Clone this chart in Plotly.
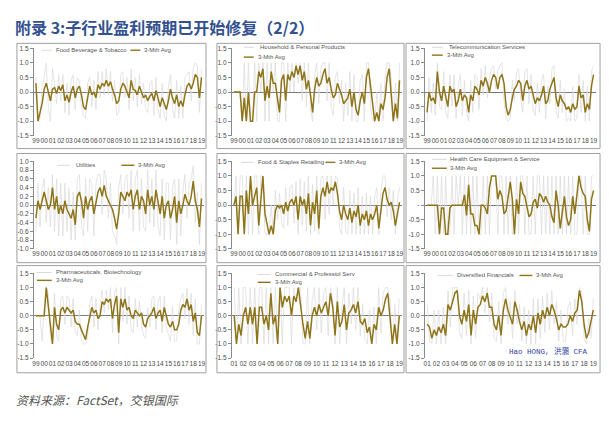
import numpy as np
import plotly.graph_objects as go

# ---------------- data (quarterly readings from the picture) ----------------
years_99 = [str(y)[-2:] for y in range(1999, 2020)]
years_01 = [str(y)[-2:] for y in range(2001, 2020)]

titles = ["Food Beverage & Tobacco", "Household & Personal Products", "Telecommunication Services",
          "Utilities", "Food & Staples Retailing", "Health Care Equipment & Service",
          "Pharmaceuticals, Biotechnology", "Commercial & Professiol Serv", "Diversified Financials"]
start_year = [1999, 1999, 1999, 1999, 1999, 1999, 1999, 2001, 2001]

food_bev_avg = [0.3, -1.0, -0.7, -0.4, 0.1, 0.3, 0.0, -0.3, 0.1, 0.15, -0.05, 0.2, 0.05, 0.25, -0.3, -0.1,
                -0.35, 0.0, 0.2, -0.2, 0.1, 0.2, -0.1, -0.5, -0.6, -0.2, 0.2, -0.1, 0.0, -0.2, 0.25, 0.1,
                0.3, 0.2, 0.4, 0.2, 0.35, 0.1, -0.1, -0.4, -0.3, 0.1, 0.3, 0.2, 0.0, -0.2, 0.4, 0.1,
                0.05, -0.1, 0.2, 0.0, -0.2, -0.1, -0.3, -0.15, -0.05, -0.3, 0.05, -0.2, -0.5, -0.2, -0.4, -0.6,
                -0.3, 0.1, -0.2, -0.4, -0.1, -0.5, -0.3, -0.5, -0.1, 0.2, 0.3, 0.1, 0.3, 0.6, 0.5, -0.2, 0.5]
food_bev_raw = [0.5, -1.0, -0.9, 0.2, 0.5, 1.0, -0.5, -1.0, 0.8, 0.3, -0.4, 0.6, -0.3, 0.6, -0.7, 0.3,
                -0.8, 0.4, 0.6, -0.6, 0.5, 0.4, -0.5, -0.8, -0.9, 0.3, 0.5, -0.5, 0.4, -0.6, 0.7, -0.2,
                0.7, -0.1, 0.8, -0.1, 0.7, -0.3, 0.4, -0.8, -0.7, 0.6, 0.7, -0.2, 0.5, -0.6, 0.8, -0.3,
                0.5, -0.5, 0.6, -0.4, 0.3, -0.6, -0.7, 0.3, 0.4, -0.8, 0.5, -0.6, -0.9, 0.3, -0.8, -1.0,
                0.2, 0.6, -0.6, -0.9, 0.4, -0.9, 0.2, -0.9, 0.5, 0.6, 0.7, -0.3, 0.8, 1.0, 0.9, -0.7, 0.8]

household_avg = [0.0, 0.0, 0.0, 0.0, -1.0, -0.2, -1.0, 0.0, -1.0, -1.0, 0.0, 0.0, 0.7, 0.5, 0.8, -0.3,
                 0.2, -0.2, 0.7, 0.3, 0.3, -0.3, -0.7, 0.4, 0.6, -0.3, 0.6, 0.4, 0.7, 0.5, 0.9, 0.6,
                 0.9, 0.4, 0.7, 0.1, 0.4, -0.1, -0.7, 0.1, 0.5, 0.2, 0.3, 0.6, 0.8, 0.3, 0.5, 0.1,
                 -0.2, -0.1, 0.3, 0.1, -0.1, -0.4, -0.3, -0.2, 0.1, -0.5, 0.0, -0.6, -0.8, -0.3, 0.0, -0.4,
                 0.5, 0.8, 0.2, -0.5, -1.0, -0.7, -1.0, -0.4, -0.6, -0.2, 0.5, 0.8, -0.2, -1.0, -0.4, -0.9, 0.4]
household_raw = [0.0, 0.0, 0.0, 0.0, -1.0, 1.0, -1.0, 1.0, -1.0, -1.0, 1.0, -1.0, 1.0, 0.0, 1.0, -1.0,
                 1.0, -1.0, 1.0, 0.0, 1.0, -1.0, -1.0, 1.0, 1.0, -1.0, 1.0, 0.0, 1.0, 0.0, 1.0, 0.3,
                 1.0, -0.3, 1.0, -0.5, 1.0, -0.6, -1.0, 0.6, 1.0, -0.4, 0.8, 1.0, 1.0, -0.3, 1.0, -0.5,
                 -0.8, 0.5, 0.7, -0.4, 0.4, -1.0, 0.3, -0.8, 0.7, -1.0, 0.6, -1.0, -1.0, 0.4, 0.6, -1.0,
                 1.0, 1.0, -0.5, -1.0, -1.0, 0.0, -1.0, 0.3, -1.0, 0.5, 1.0, 1.0, 0.5, -1.0, 0.3, -1.0, 1.0]

telecom_avg = [-0.7, 0.0, -0.3, -0.2, -0.4, 0.7, 0.0, -0.3, 0.2, -0.2, -0.5, 0.2, 0.0, 0.1, -0.5, -0.3,
               0.1, -0.3, -0.1, -0.2, -0.7, -0.1, -0.3, 0.2, 0.1, -0.1, 0.4, 0.2, 0.5, 0.3, 0.0, 0.4,
               0.6, 0.5, 0.1, 0.5, 0.6, 0.3, -0.5, -0.8, -0.6, -0.2, 0.1, 0.2, 0.4, 0.3, -0.3, 0.2,
               0.4, 0.1, 0.2, -0.1, -0.4, -0.2, -0.3, -0.1, 0.2, -0.4, -0.3, 0.1, 0.3, 0.5, -0.2, -0.5,
               -0.1, -0.3, -0.4, -0.6, -0.5, -0.7, -0.4, -0.6, -0.5, 0.2, -0.2, -0.1, -0.7, -0.4, -0.6, 0.2, 0.6]
telecom_raw = [-1.0, 0.5, -0.7, 0.3, -0.8, 1.0, -0.5, -0.6, 0.7, -0.7, -0.9, 0.6, -0.5, 0.6, -0.9, 0.2,
               0.6, -0.8, 0.4, -0.7, -1.0, 0.4, -0.7, 0.6, 0.5, -0.6, 0.8, -0.1, 0.9, -0.2, 0.5, 0.8,
               0.9, 0.1, 0.7, 0.9, 1.0, -0.3, -0.9, -1.0, -0.9, 0.4, -0.3, 0.7, 0.8, -0.2, -0.7, 0.7,
               0.8, -0.4, 0.6, -0.6, -0.8, 0.3, -0.7, 0.4, 0.6, -0.9, 0.2, -0.4, 0.8, 0.9, -0.7, -0.9,
               0.4, -0.7, 0.1, -1.0, -0.9, -1.0, 0.2, -1.0, -0.9, 0.6, -0.7, 0.4, -1.0, 0.2, -1.0, 0.7, 0.9]

utilities_avg = [-0.3, 0.1, -0.1, 0.1, 0.3, 0.1, -0.1, 0.0, 0.4, -0.1, 0.2, -0.2, 0.0, -0.2, 0.1, -0.1,
                 -0.2, -0.3, -0.1, -0.45, 0.2, 0.3, 0.1, -0.3, 0.2, -0.1, 0.1, 0.2, -0.2, 0.1, 0.3, 0.4,
                 0.2, 0.45, 0.2, 0.1, 0.0, -0.1, -0.3, -0.55, -0.2, 0.3, 0.2, 0.1, 0.3, 0.2, 0.35, -0.1,
                 0.2, 0.35, -0.1, 0.2, 0.1, -0.2, 0.35, 0.0, 0.2, -0.1, 0.35, 0.1, -0.2, 0.2, -0.3, 0.0,
                 0.1, -0.3, -0.1, 0.2, -0.4, 0.1, -0.2, 0.0, 0.25, 0.1, 0.0, 0.2, 0.55, 0.1, -0.1, -0.5, 0.15]
utilities_raw = [-0.6, 0.5, -0.5, 0.4, 0.6, -0.4, 0.4, -0.5, 0.7, -0.6, 0.6, -0.7, 0.5, -0.7, 0.5, -0.6,
                 0.4, -0.8, 0.3, -0.8, 0.6, 0.7, -0.5, -0.7, 0.6, -0.6, 0.6, 0.5, -0.7, 0.5, 0.7, 0.7,
                 -0.2, 0.8, 0.6, -0.3, 0.5, -0.6, -0.7, -0.9, 0.4, 0.7, -0.2, 0.6, 0.7, -0.3, 0.8, -0.6,
                 0.6, 0.8, -0.6, 0.6, -0.5, -0.6, 0.8, -0.4, 0.6, -0.5, 0.8, -0.5, -0.7, 0.6, -0.8, 0.5,
                 0.5, -0.8, 0.4, 0.6, -0.9, 0.6, -0.7, 0.3, 0.7, -0.3, 0.5, 0.6, 0.9, -0.4, 0.3, -0.9, 0.5]

staples_avg = [0.0, 0.3, -1.0, 0.3, 0.3, -1.0, 0.5, -0.3, 1.0, 0.0, 0.3, 0.6, -0.7, 0.2, 1.0, -0.3,
               -0.7, -1.0, -0.7, -1.0, -0.2, 0.0, -0.1, 0.0, -0.3, 0.1, -0.2, 0.1, 0.2, 0.0, 0.3, -0.5,
               0.3, 0.0, 0.2, -0.3, 0.4, -0.7, 0.1, -0.3, 0.5, -0.8, 0.3, 0.6, 0.3, 0.8, 0.4, 0.6,
               0.5, 0.8, 0.4, -0.2, -0.5, 0.0, -0.3, -0.5, -0.1, -0.6, -0.2, -0.4, 0.0, -0.7, -0.3, -0.5,
               -0.2, -0.7, -0.3, -0.5, -0.3, 0.0, -0.8, -0.1, 0.4, 0.6, 0.2, 0.0, 0.1, -0.2, -0.7, -0.3, 0.1]
staples_raw = [0.0, 1.0, -1.0, 1.0, 1.0, -1.0, 1.0, -1.0, 1.0, -1.0, 1.0, 1.0, -1.0, 1.0, 1.0, -1.0,
               -1.0, -1.0, 0.0, -1.0, 0.5, -0.5, 0.4, -0.6, -0.8, 0.6, -0.7, 0.6, 0.7, -0.6, 0.8, -1.0,
               0.9, -0.7, 0.8, -0.9, 1.0, -1.0, 0.7, -0.9, 1.0, -1.0, 0.9, 1.0, -0.5, 1.0, -0.3, 1.0,
               0.0, 1.0, 0.9, -0.8, -1.0, 0.6, -0.9, -1.0, 0.5, -1.0, 0.4, -1.0, 0.6, -1.0, 0.3, -1.0,
               0.4, -1.0, 0.3, -1.0, 0.3, 0.6, -1.0, 0.5, 1.0, 1.0, -0.4, 0.6, -0.5, 0.5, -1.0, 0.2, 0.6]

healthcare_avg = [0.0, 0.0, 0.0, 0.0, 0.0, 0.0, -1.0, -0.1, -0.1, -1.0, -1.0, -0.1, 0.0, 0.0, 0.0, 0.0,
                  0.0, 0.0, 0.35, -0.35, 0.7, -0.3, -0.3, -0.7, -0.7, -1.0, 0.0, 0.0, -0.1, -0.3, 0.6, 1.0,
                  1.0, 1.0, 0.2, 0.5, 0.3, -0.3, -0.2, 0.4, 0.8, 0.2, -1.0, 0.2, -0.3, 0.8, 0.4, 0.3,
                  -0.1, -0.4, -0.3, 0.1, 0.2, -0.1, 0.4, 0.3, 0.1, 0.3, 0.1, 0.0, -0.4, -0.6, 0.5, 0.0,
                  -0.8, -0.2, 0.3, -0.4, -0.7, -0.5, 0.3, -0.3, 0.4, 1.0, 0.6, 0.4, 0.3, -0.5, -0.9, 0.2, 0.5]
healthcare_raw = [0.0, 0.0, 0.0, 1.0, -1.0, 1.0, -1.0, 1.0, -1.0, 1.0, -1.0, -1.0, 1.0, -1.0, 1.0, 0.0,
                  1.0, -1.0, 1.0, -1.0, 1.0, -1.0, 1.0, -1.0, 1.0, -1.0, -1.0, 1.0, -1.0, 1.0, -1.0, 1.0,
                  1.0, 1.0, -1.0, 1.0, 1.0, -1.0, 1.0, -1.0, 1.0, -1.0, -1.0, 1.0, -1.0, 1.0, 1.0, -1.0,
                  1.0, -1.0, -1.0, 1.0, -1.0, 1.0, 1.0, -1.0, 1.0, -1.0, 1.0, -1.0, 1.0, -1.0, 1.0, -1.0,
                  1.0, -1.0, 1.0, -1.0, 1.0, -1.0, 1.0, -1.0, -1.0, 1.0, 1.0, -1.0, 1.0, -1.0, -1.0, 1.0, 1.0]

pharma_avg = [0.0, 0.0, 0.0, 0.0, 0.0, 1.0, 0.3, -0.3, -1.0, 0.3, -0.3, -0.5, 0.2, 0.3, 0.1, 0.3,
              0.2, 0.1, 0.2, -0.2, -0.3, -0.3, -0.5, -0.7, -0.85, -0.4, 0.0, 0.3, 0.1, 0.2, -0.1, 0.0,
              0.5, 0.4, 0.6, 0.5, 0.6, -0.1, 0.4, 0.7, -0.6, 0.6, 0.3, 0.6, 0.2, 0.3, 0.0, -0.1,
              0.2, 0.1, 0.0, 0.1, -0.3, -0.4, -0.1, 0.0, 0.1, 0.3, -0.1, 0.1, 0.2, -0.2, 0.3, 0.0,
              -0.3, -0.4, -0.2, -0.5, -0.5, -0.3, 0.2, 0.4, 0.3, 0.6, 0.2, 0.4, -0.2, 0.1, -0.6, -0.7, 0.0]
pharma_raw = [0.0, 0.0, 0.0, -0.9, 0.3, 1.0, 0.8, -0.8, -1.0, 0.8, -0.7, -0.9, 0.6, 0.7, -0.3, 0.7,
              0.6, -0.4, 0.6, -0.6, -0.7, 0.2, -0.9, -1.0, -1.0, -0.8, 0.4, 0.7, -0.4, 0.6, -0.5, 0.4,
              0.9, 0.1, 0.9, 0.2, 1.0, -0.6, 0.8, 1.0, -1.0, 1.0, -0.2, 1.0, -0.3, 0.7, -0.5, -0.6,
              0.6, -0.4, 0.5, -0.3, -0.7, -0.8, 0.3, -0.4, 0.6, 0.7, -0.5, 0.5, 0.7, -0.6, 0.7, -0.4,
              -0.7, -0.9, 0.3, -0.9, -0.9, 0.2, 0.6, 0.8, -0.1, 1.0, -0.3, 0.8, -0.7, 0.6, -1.0, -1.0, 0.4]

commercial_avg = [0.0, -1.0, -0.3, -0.7, 0.0, 0.3, -0.3, 0.3, -0.3, 0.3, -1.0, 0.3, 0.3, -0.3, 0.0, -0.5,
                  0.8, -0.3, 0.0, -1.0, 1.0, 0.3, 0.7, 0.5, 0.7, 0.0, 0.7, 0.5, 1.0, 0.3, -0.3, -0.8,
                  -0.2, -0.8, 0.0, 0.3, 0.0, 0.4, 0.1, 0.3, 0.5, 0.0, 0.8, 0.3, -0.7, 0.5, -0.4, -0.2,
                  0.4, -0.5, 0.1, 0.2, 0.4, 0.1, 0.5, -0.2, -0.3, -0.1, -0.6, -0.4, -1.0, -0.3, -0.5, 0.3,
                  0.0, 0.2, 0.6, 0.8, 0.0, -1.0, -0.3, -1.0, 0.0]
commercial_raw = [1.0, -1.0, 1.0, -1.0, 1.0, 1.0, -1.0, 1.0, -1.0, 1.0, -1.0, 1.0, 1.0, -1.0, 1.0, -1.0,
                  1.0, -1.0, 1.0, -1.0, 1.0, -1.0, 1.0, 1.0, 1.0, -1.0, 1.0, 0.5, 1.0, 1.0, -1.0, -1.0,
                  1.0, -1.0, 0.5, 1.0, -0.5, 1.0, -0.6, 0.8, 1.0, -0.7, 1.0, 0.5, -1.0, 1.0, -1.0, 0.3,
                  1.0, -1.0, 0.8, -0.3, 1.0, -0.5, 1.0, -0.7, 0.4, -0.8, -1.0, 0.2, -1.0, 0.3, -1.0, 1.0,
                  -0.6, 0.8, 1.0, 1.0, 0.5, -1.0, 0.4, -1.0, 0.6]

divfin_avg = [-0.3, -0.4, -0.8, -0.5, -0.7, -0.4, -0.6, -0.3, -0.7, 0.4, 0.2, 0.5, 0.8, 0.9, 0.0, -0.3,
              0.2, -0.2, 0.4, -0.7, 0.2, -0.3, 0.3, 0.4, 0.7, 0.5, 0.8, 0.3, 0.3, -0.3, -0.5, 0.0,
              -0.7, 0.2, 0.6, 0.2, -0.1, -0.3, 0.5, 0.2, -0.2, -0.5, -0.2, -0.7, -0.3, -0.5, 0.0, -0.6,
              0.1, -0.3, 0.2, -0.1, 0.3, 0.0, 0.4, 0.2, -0.1, -0.5, -0.3, -0.4, -0.4, -0.3, 0.0, -0.2,
              0.1, 0.2, 0.9, 0.5, -0.3, -0.8, -0.6, -0.2, 0.2]
divfin_raw = [0.4, -0.9, -1.0, 0.2, -1.0, 0.2, -1.0, 0.3, -1.0, 0.9, -0.4, 1.0, 1.0, 1.0, -0.6, -0.8,
              0.8, -0.7, 0.9, -1.0, 0.7, -0.8, 0.8, 0.6, 1.0, 0.1, 1.0, -0.2, 0.8, -0.8, -0.9, 0.5,
              -1.0, 0.8, 1.0, -0.3, 0.5, -0.8, 0.9, -0.3, 0.4, -0.9, 0.3, -1.0, 0.2, -1.0, 0.6, -1.0,
              0.6, -0.8, 0.7, -0.6, 0.8, -0.5, 0.9, -0.3, 0.5, -0.9, 0.2, -0.9, -0.9, 0.3, 0.5, -0.7,
              0.6, -0.3, 1.0, 0.9, -0.8, -1.0, -0.1, -0.8, 0.6]

avg_series = [food_bev_avg, household_avg, telecom_avg, utilities_avg, staples_avg,
              healthcare_avg, pharma_avg, commercial_avg, divfin_avg]
raw_series = [food_bev_raw, household_raw, telecom_raw, utilities_raw, staples_raw,
              healthcare_raw, pharma_raw, commercial_raw, divfin_raw]

# ---------------- layout geometry (pixels) ----------------
W, H = 609, 424
col_px = [(32, 203), (231, 402), (425, 597)]
row_px = [(45, 134), (160, 249), (274, 360)]
box_col = [(15, 205), (216, 404), (406, 601)]
box_row = [(40, 147), (152, 263), (266, 375)]

def px(x):
    return x / W

def py(y):
    return 1 - y / H

fig = go.Figure()
layout = dict(width=W, height=H, margin=dict(l=0, r=0, t=0, b=0),
              paper_bgcolor="white", plot_bgcolor="white", showlegend=False)

AVG_COLOR = "#8f7519"
RAW_COLOR = "#dadada"
tick_font = dict(family="Liberation Sans", size=6.5, color="#4a4a4a")
shapes = []
annotations = []

for i in range(9):
    r, c = divmod(i, 3)
    n = i + 1
    sx = "" if n == 1 else str(n)
    y0 = start_year[i]
    xs = [y0 + 0.25 * k for k in range(len(avg_series[i]))]
    fig.add_trace(go.Scatter(x=xs, y=raw_series[i], mode="lines",
                             line=dict(color=RAW_COLOR, width=0.7),
                             xaxis="x" + sx, yaxis="y" + sx, hoverinfo="skip"))
    fig.add_trace(go.Scatter(x=xs, y=avg_series[i], mode="lines",
                             line=dict(color=AVG_COLOR, width=1.5),
                             xaxis="x" + sx, yaxis="y" + sx))
    labels = years_99 if y0 == 1999 else years_01
    tvals = list(range(y0, 2020))
    layout["xaxis" + sx] = dict(domain=[px(col_px[c][0]), px(col_px[c][1])],
                                anchor="y" + sx, range=[y0 - 0.25, 2019.3],
                                tickvals=tvals, ticktext=labels, tickangle=0,
                                showgrid=False, zeroline=False, showline=False,
                                ticks="", tickfont=tick_font, fixedrange=True)
    if i == 3:
        yv = [-1.0, -0.8, -0.6, -0.4, -0.2, 0.0, 0.2, 0.4, 0.6, 0.8, 1.0]
        yt = ["%.1f" % v for v in yv]
        yr = [-1.0, 1.0]
    else:
        yv = [-1.5, -1.0, -0.5, 0.0, 0.5, 1.0, 1.5]
        yt = ["%.1f" % v for v in yv]
        if i == 5:
            yt[3] = "-"
        yr = [-1.5, 1.5]
    layout["yaxis" + sx] = dict(domain=[py(row_px[r][1]), py(row_px[r][0])],
                                anchor="x" + sx, range=yr, tickvals=yv, ticktext=yt,
                                showgrid=False, zeroline=True, zerolinecolor="#7a7a7a",
                                zerolinewidth=1, showline=True, linecolor="#8a8a8a",
                                linewidth=1, ticks="outside", ticklen=3, tickcolor="#8a8a8a",
                                tickfont=tick_font, fixedrange=True)
    shapes.append(dict(type="rect", xref="paper", yref="paper",
                       x0=px(box_col[c][0]), x1=px(box_col[c][1]),
                       y0=py(box_row[r][1]), y1=py(box_row[r][0]),
                       line=dict(color="#a0a0a0", width=1)))

# legends: (raw sample x0,x1,y, title x, avg sample x0,x1,y, avg text x)
legend_pos = [
    (40, 50, 47, 52, 129, 139, 47, 141),
    (243, 253, 44, 257, 243, 253, 54, 255),
    (432, 443, 44, 447, 432, 443, 52, 445),
    (55, 68, 164, 72, 120, 133, 164, 135),
    (240, 253, 161, 255, 325, 335, 161, 337),
    (432, 447, 158, 448, 432, 447, 167, 448),
    (35, 50, 273, 52, 35, 50, 281, 52),
    (257, 270, 275, 272, 257, 270, 283, 272),
    (438, 453, 276, 455, 520, 533, 276, 535),
]
leg_font = dict(family="Liberation Sans", size=6, color="#555555")
for i, (a0, a1, ay, tx, b0, b1, by, bx) in enumerate(legend_pos):
    shapes.append(dict(type="line", xref="paper", yref="paper", x0=px(a0), x1=px(a1),
                       y0=py(ay), y1=py(ay), line=dict(color=RAW_COLOR, width=1)))
    shapes.append(dict(type="line", xref="paper", yref="paper", x0=px(b0), x1=px(b1),
                       y0=py(by), y1=py(by), line=dict(color=AVG_COLOR, width=1.4)))
    annotations.append(dict(text=titles[i], xref="paper", yref="paper", x=px(tx), y=py(ay),
                            xanchor="left", yanchor="middle", showarrow=False, font=leg_font))
    annotations.append(dict(text="3-Mth Avg", xref="paper", yref="paper", x=px(bx), y=py(by),
                            xanchor="left", yanchor="middle", showarrow=False, font=leg_font))

annotations.append(dict(text="<b>附录 3:子行业盈利预期已开始修复（2/2）</b>", xref="paper", yref="paper",
                        x=px(11), y=py(23), xanchor="left", yanchor="middle", showarrow=False,
                        font=dict(family="Noto Sans CJK SC", size=16, color="#33508f")))
annotations.append(dict(text="资料来源：FactSet，交银国际", xref="paper", yref="paper",
                        x=px(12), y=py(402), xanchor="left", yanchor="middle", showarrow=False,
                        font=dict(family="Noto Sans CJK SC", size=12, color="#555555", style="italic")))
annotations.append(dict(text="Hao HONG, 洪灝 CFA", xref="paper", yref="paper",
                        x=px(507), y=py(353), xanchor="left", yanchor="middle", showarrow=False,
                        font=dict(family="Liberation Mono, Noto Sans CJK SC", size=7.5, color="#2f3fa0")))

layout["shapes"] = shapes
layout["annotations"] = annotations
fig.update_layout(**layout)
fig.write_html("out.html", config={"displayModeBar": False, "staticPlot": True},
               post_script="document.body.style.margin='0px';document.body.style.overflow='hidden';")
